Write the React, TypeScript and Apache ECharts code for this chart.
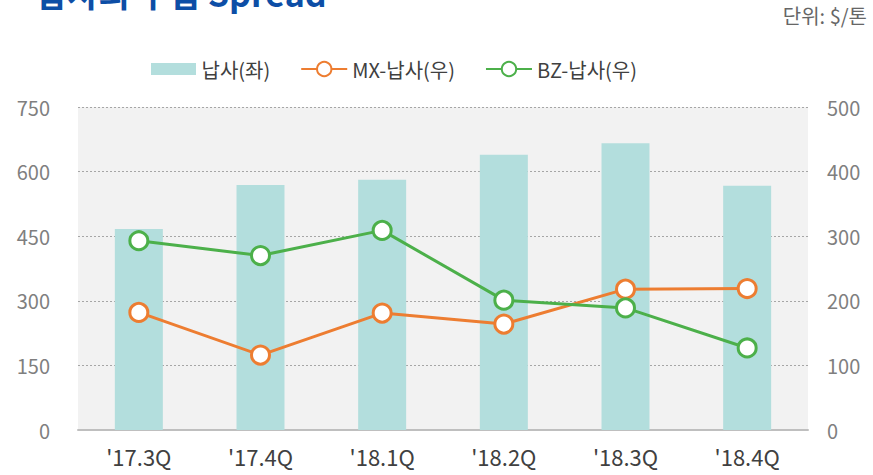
import React, { useEffect, useRef } from "react";
import * as echarts from "echarts";

const categories = ["'17.3Q", "'17.4Q", "'18.1Q", "'18.2Q", "'18.3Q", "'18.4Q"];
const leadConcentrate = [467, 569, 581, 639, 666, 567];
const mxSpread = [182, 116, 181, 164, 218, 219];
const bzSpread = [293, 270, 309, 201, 189, 127];
const leftTicks = { min: 0, max: 750, interval: 150 };
const rightTicks = { min: 0, max: 500, interval: 100 };
const seriesNames = ["납사(좌)", "MX-납사(우)", "BZ-납사(우)"];
const titleText = "납사의 수입 Spread";
const unitText = "단위: $/톤";

const FONT = "'Noto Sans CJK KR', 'Noto Sans', sans-serif";

export default function App() {
  const ref = useRef<HTMLDivElement>(null);
  useEffect(() => {
    if (!ref.current) return;
    const chart = echarts.init(ref.current, undefined, { renderer: "svg" });
    const lineSeries = (name: string, data: number[], color: string) => ({
      name,
      type: "line",
      yAxisIndex: 1,
      data,
      symbol: "circle",
      symbolSize: 18,
      lineStyle: { color, width: 3 },
      itemStyle: { color: "#ffffff", borderColor: color, borderWidth: 3 },
      z: 3,
    });
    chart.setOption({
      animation: false,
      textStyle: { fontFamily: FONT },
      graphic: [
        {
          type: "text",
          left: 36,
          top: -25,
          style: {
            text: titleText,
            fontSize: 34,
            fontWeight: "bold",
            fill: "#0d4ea6",
            fontFamily: FONT,
          },
        },
        {
          type: "text",
          right: 6,
          top: 5,
          style: {
            text: unitText,
            fontSize: 20,
            fill: "#666666",
            fontFamily: FONT,
          },
        },
      ],
      legend: {
        left: 146,
        top: 54,
        itemWidth: 46,
        itemHeight: 18,
        itemGap: 30,
        textStyle: { fontSize: 20, color: "#404040", fontFamily: FONT },
        data: [
          { name: seriesNames[0], icon: "path://M0,0M0,18M0,3H45V15H0Z" },
          { name: seriesNames[1] },
          { name: seriesNames[2] },
        ],
      },
      grid: {
        left: 78,
        right: 65,
        top: 107,
        bottom: 45,
        show: true,
        backgroundColor: "#f2f2f2",
        borderWidth: 0,
      },
      xAxis: {
        type: "category",
        data: categories,
        axisLine: { show: true, lineStyle: { color: "#bfbfbf", width: 2 } },
        axisTick: { show: false },
        axisLabel: { fontSize: 22, color: "#404040", margin: 15, fontFamily: FONT },
      },
      yAxis: [
        {
          type: "value",
          ...leftTicks,
          axisLine: { show: false },
          axisTick: { show: false },
          axisLabel: { fontSize: 20, color: "#7f7f7f", margin: 28, fontFamily: FONT },
          splitLine: { show: true, lineStyle: { color: "#a6a6a6", type: [2, 2], width: 1.2 } },
        },
        {
          type: "value",
          ...rightTicks,
          axisLine: { show: false },
          axisTick: { show: false },
          axisLabel: { fontSize: 20, color: "#7f7f7f", margin: 19, fontFamily: FONT },
          splitLine: { show: false },
        },
      ],
      series: [
        {
          name: seriesNames[0],
          type: "bar",
          data: leadConcentrate,
          barWidth: 48,
          itemStyle: { color: "#b3dedd" },
          z: 2,
        },
        lineSeries(seriesNames[1], mxSpread, "#ed7d31"),
        lineSeries(seriesNames[2], bzSpread, "#4cb04a"),
      ],
    });
    return () => chart.dispose();
  }, []);
  return (
    <div style={{ position: "fixed", left: 0, top: 0, width: 873, height: 475, background: "#fff" }}>
      <div ref={ref} style={{ width: 873, height: 475 }} />
    </div>
  );
}
